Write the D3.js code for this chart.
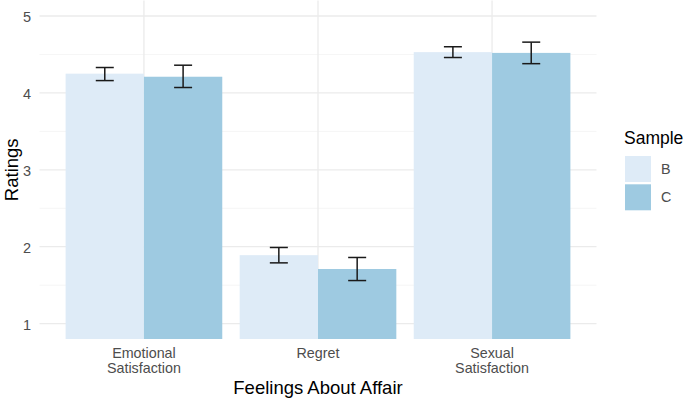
<!DOCTYPE html>
<html><head><meta charset="utf-8">
<script src="https://cdn.jsdelivr.net/npm/d3@7"></script>
<style>body{margin:0;background:#fff}svg{display:block;font-family:"Liberation Sans",Arial,sans-serif}</style>
</head><body><svg id="c" width="685" height="399"></svg>
<script>
const categories = ["Emotional\nSatisfaction", "Regret", "Sexual\nSatisfaction"];
const samples = ["B", "C"];
const meanB = [4.25, 1.89, 4.53];
const meanC = [4.21, 1.71, 4.52];
const lowB = [4.16, 1.79, 4.46];
const highB = [4.33, 1.99, 4.60];
const lowC = [4.07, 1.56, 4.38];
const highC = [4.36, 1.86, 4.66];
const yTicks = [1, 2, 3, 4, 5];
const yMinor = [1.5, 2.5, 3.5, 4.5];
const colors = ["#DEEBF7", "#9ECAE1"];

const svg = d3.select("#c");
const L = 39.5, R = 596.5, T = 0.6, B = 339;
const x = d3.scalePoint().domain(categories)
  .range([L + 0.6 * (R - L) / 3.2, R - 0.6 * (R - L) / 3.2]);
const step = x.step();
const xc = c => x(c);
const y = d3.scaleLinear().domain([0.8, 5.2]).range([B, T]);
const xs = d3.scaleBand().domain(samples).range([-0.45 * step, 0.45 * step]);

const data = [];
categories.forEach((c, i) => {
  data.push({c, s: "B", v: meanB[i], lo: lowB[i], hi: highB[i]});
  data.push({c, s: "C", v: meanC[i], lo: lowC[i], hi: highC[i]});
});

const g = svg.append("g");
g.selectAll(".mn").data(yMinor).join("line")
  .attr("x1", L).attr("x2", R).attr("y1", d => y(d)).attr("y2", d => y(d))
  .attr("stroke", "#f3f3f3").attr("stroke-width", 0.8);
g.selectAll(".mj").data(yTicks).join("line")
  .attr("x1", L).attr("x2", R).attr("y1", d => y(d)).attr("y2", d => y(d))
  .attr("stroke", "#ebebeb").attr("stroke-width", 1.3);
g.selectAll(".vx").data(categories).join("line")
  .attr("x1", d => xc(d)).attr("x2", d => xc(d)).attr("y1", T).attr("y2", B)
  .attr("stroke", "#ebebeb").attr("stroke-width", 1.3);

svg.append("clipPath").attr("id", "pc").append("rect")
  .attr("x", L).attr("y", T).attr("width", R - L).attr("height", B - T);
const bars = svg.append("g").attr("clip-path", "url(#pc)");
bars.selectAll("rect").data(data).join("rect")
  .attr("x", d => xc(d.c) + xs(d.s)).attr("width", xs.bandwidth())
  .attr("y", d => y(d.v)).attr("height", d => y(0) - y(d.v))
  .attr("fill", d => colors[samples.indexOf(d.s)]);

const cap = 9;
const eb = svg.append("g").attr("stroke", "#1a1a1a").attr("stroke-width", 1.5);
data.forEach(d => {
  const cx = xc(d.c) + xs(d.s) + xs.bandwidth() / 2;
  eb.append("line").attr("x1", cx).attr("x2", cx).attr("y1", y(d.lo)).attr("y2", y(d.hi));
  eb.append("line").attr("x1", cx - cap).attr("x2", cx + cap).attr("y1", y(d.lo)).attr("y2", y(d.lo));
  eb.append("line").attr("x1", cx - cap).attr("x2", cx + cap).attr("y1", y(d.hi)).attr("y2", y(d.hi));
});

svg.selectAll(".yt").data(yTicks).join("text")
  .attr("x", 31).attr("y", d => y(d) + 1).attr("dy", "0.35em").attr("text-anchor", "end")
  .attr("font-size", 14.5).attr("fill", "#4d4d4d").text(d => d);

categories.forEach(c => {
  const lines = c.split("\n");
  const t = svg.append("text").attr("text-anchor", "middle").attr("font-size", 14.3).attr("fill", "#4d4d4d");
  lines.forEach((ln, i) => t.append("tspan").attr("x", xc(c)).attr("y", 358 + i * 15).text(ln));
});

svg.append("text").attr("x", xc(categories[1])).attr("y", 394).attr("text-anchor", "middle")
  .attr("font-size", 18.5).attr("fill", "#000").text("Feelings About Affair");
svg.append("text").attr("transform", `translate(18,${(T + B) / 2}) rotate(-90)`).attr("text-anchor", "middle")
  .attr("font-size", 18.5).attr("fill", "#000").text("Ratings");

svg.append("text").attr("x", 624).attr("y", 144).attr("font-size", 17.5).attr("fill", "#000").text("Sample");
samples.forEach((s, i) => {
  svg.append("rect").attr("x", 625).attr("y", 156 + i * 28.3).attr("width", 26).attr("height", 26)
    .attr("fill", colors[i]);
  svg.append("text").attr("x", 661).attr("y", 169 + i * 28.3).attr("dy", "0.35em")
    .attr("font-size", 14.3).attr("fill", "#4d4d4d").text(s);
});
</script></body></html>
